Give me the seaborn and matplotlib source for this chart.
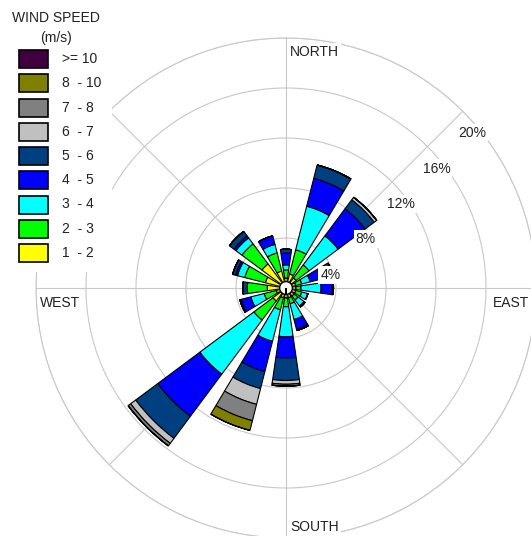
import numpy as np
import seaborn as sns
import matplotlib.pyplot as plt
from matplotlib.patches import Rectangle

# directions clockwise from north
directions = ["N", "NNE", "NE", "ENE", "E", "ESE", "SE", "SSE",
              "S", "SSW", "SW", "WSW", "W", "WNW", "NW", "NNW"]

# frequency (%) of each speed class per direction
spd_1_2 = [0.3, 0.65, 0.5, 0.3, 0.3, 0.3, 0.3, 0.3, 0.3, 0.3, 0.8, 0.3, 1.0, 1.2, 1.9, 0.9]
spd_2_3 = [0.65, 2.0, 1.3, 0.5, 0.4, 0.5, 0.4, 0.5, 0.7, 1.0, 1.9, 1.0, 1.6, 1.7, 2.0, 1.5]
spd_3_4 = [0.4, 3.6, 2.9, 0.7, 1.6, 0.5, 0.6, 1.3, 2.4, 2.6, 5.4, 1.1, 0.0, 0.6, 0.6, 0.7]
spd_4_5 = [0.95, 2.3, 2.7, 1.2, 0.9, 0.0, 0.1, 0.8, 1.7, 2.5, 4.2, 0.8, 0.0, 0.15, 0.2, 0.7]
spd_5_6 = [0.3, 1.1, 0.9, 0.7, 0.1, 0.0, 0.0, 0.1, 1.8, 1.4, 2.2, 0.1, 0.35, 0.25, 0.45, 0.0]
spd_6_7 = [0, 0, 0.25, 0, 0, 0, 0, 0, 0.3, 1.3, 0.5, 0, 0, 0, 0, 0]
spd_7_8 = [0, 0, 0, 0, 0, 0, 0, 0, 0.15, 1.35, 0.25, 0, 0, 0, 0, 0]
spd_8_10 = [0, 0, 0, 0, 0, 0, 0, 0, 0, 0.8, 0, 0, 0, 0, 0, 0]
spd_10 = [0] * 16

speed_series = [spd_1_2, spd_2_3, spd_3_4, spd_4_5, spd_5_6,
                spd_6_7, spd_7_8, spd_8_10, spd_10]
speed_labels = ["1  - 2", "2  - 3", "3  - 4", "4  - 5", "5  - 6",
                "6  - 7", "7  - 8", "8  - 10", ">= 10"]
speed_colors = ["#ffff00", "#00ff00", "#00ffff", "#0000ff", "#004080",
                "#c0c0c0", "#808080", "#808000", "#400040"]

rings = [4, 8, 12, 16, 20]
ring_labels = ["4%", "8%", "12%", "16%", "20%"]
calm_radius = 0.5

sns.set_theme(style="white")
plt.rcParams['font.family'] = ['Liberation Sans', 'DejaVu Sans']

W, H = 531, 536
fig = plt.figure(figsize=(W / 100, H / 100), dpi=100)

# polar axes: centre at (286, 288) px, 20% ring at 250 px
cx, cy, R = 286, 288, 250
ax = fig.add_axes([(cx - R) / W, (H - cy - R) / H, 2 * R / W, 2 * R / H],
                  projection='polar')
ax.set_theta_zero_location('N')
ax.set_theta_direction(-1)
ax.set_ylim(0, 20)

theta = np.deg2rad(np.arange(16) * 22.5)
bottom = np.full(16, calm_radius)
for vals, col in zip(speed_series, speed_colors):
    vals = np.array(vals, dtype=float)
    ax.bar(theta, vals, width=0.29, bottom=bottom, color=col,
           edgecolor='black', linewidth=0.8, zorder=3)
    bottom = bottom + vals

# calm circle in the middle
ax.bar(0, calm_radius, width=2 * np.pi, bottom=0, color='white',
       edgecolor='black', linewidth=0.8, zorder=4)

ax.set_axisbelow(True)
ax.set_xticks(np.deg2rad(np.arange(0, 360, 45)))
ax.set_xticklabels([])
ax.set_yticks(rings)
ax.set_yticklabels([])
ax.grid(True, color='#c8c8c8', linewidth=0.8)
ax.spines['polar'].set_color('#c8c8c8')
ax.spines['polar'].set_linewidth(0.8)

box = dict(boxstyle='square,pad=0.15', facecolor='white', edgecolor='none')
for r, lab in zip(rings, ring_labels):
    ax.annotate(lab, xy=(np.pi / 4, r), xytext=(9, -22), textcoords='offset pixels',
                ha='center', va='center', fontsize=10, color='#222222',
                bbox=box, zorder=6, annotation_clip=False)

compass = [("NORTH", 0, (4, -7)), ("SOUTH", np.pi, (4, 18)),
           ("WEST", 1.5 * np.pi, (4, -8)), ("EAST", 0.5 * np.pi, (-43, -8))]
for lab, ang, off in compass:
    ax.annotate(lab, xy=(ang, 20), xytext=off, textcoords='offset pixels',
                ha='left', va='top', fontsize=10, color='#222222',
                bbox=box, zorder=6, annotation_clip=False)

# legend panel (top-left, white background)
lw_, lh_ = 112, 272
lax = fig.add_axes([0, (H - lh_) / H, lw_ / W, lh_ / H], zorder=10)
lax.set_xlim(0, lw_)
lax.set_ylim(lh_, 0)
lax.set_facecolor('white')
lax.axis('off')
lax.add_patch(Rectangle((0, 0), lw_, lh_, facecolor='white', edgecolor='none'))
lax.text(56, 18, "WIND SPEED", ha='center', va='center', fontsize=10, color='#222222')
lax.text(56, 38, "(m/s)", ha='center', va='center', fontsize=10, color='#222222')
for i, (lab, col) in enumerate(zip(speed_labels[::-1], speed_colors[::-1])):
    y0 = 50 + i * 24.25
    lax.add_patch(Rectangle((19, y0), 29, 18, facecolor=col, edgecolor='black', linewidth=1.2))
    lax.text(62, y0 + 9, lab, ha='left', va='center', fontsize=10, color='#222222')

fig.savefig("out.png", dpi=100)
